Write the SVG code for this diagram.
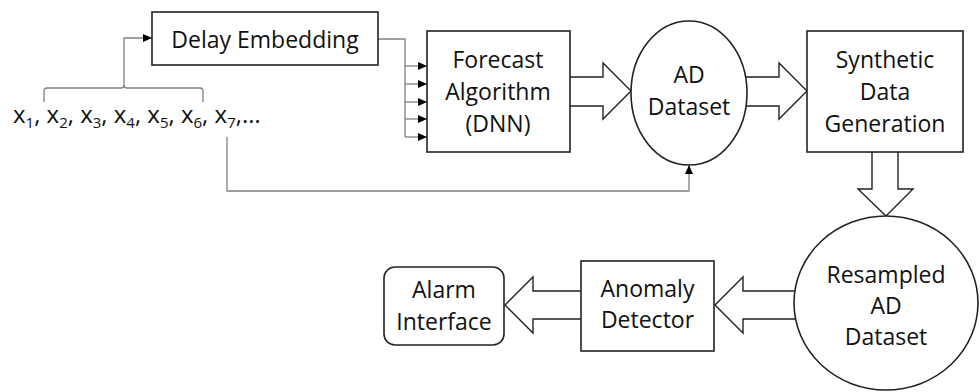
<svg xmlns="http://www.w3.org/2000/svg" width="980" height="392" viewBox="0 0 980 392">
<style>
.box{fill:#fff;stroke:#222;stroke-width:1.6}
.t{font-family:"Open Sans","Noto Sans",sans-serif;font-size:23px;fill:#111;text-anchor:middle}
.seq{font-family:"Open Sans","Noto Sans",sans-serif;font-size:24px;fill:#111}
.sub{font-size:15px}
.thin{fill:none;stroke:#808080;stroke-width:1.3}
.hollow{fill:#fff;stroke:#222;stroke-width:1.4;stroke-linejoin:miter}
</style>
<defs>
<marker id="ah" markerUnits="userSpaceOnUse" markerWidth="9" markerHeight="8" refX="9" refY="4" orient="auto">
<path d="M0,0 L9,4 L0,8 Z" fill="#000"/>
</marker>
</defs>
<rect width="980" height="392" fill="#fff"/>
<g id="connectors">
<path class="thin" d="M44,102 L44,91 Q44,88 47,88 L121,88 Q124,88 124,85 Q124,88 127,88 L200,88 Q203,88 203,91 L203,102"/>
<path class="thin" d="M124,85 L124,38 L152,38" marker-end="url(#ah)"/>
<path class="thin" d="M378,39 L405,39 L405,137"/>
<path class="thin" d="M405,66 L427,66" marker-end="url(#ah)"/>
<path class="thin" d="M405,84 L427,84" marker-end="url(#ah)"/>
<path class="thin" d="M405,102 L427,102" marker-end="url(#ah)"/>
<path class="thin" d="M405,119 L427,119" marker-end="url(#ah)"/>
<path class="thin" d="M405,137 L427,137" marker-end="url(#ah)"/>
<path class="thin" d="M227,137 L227,191 L689,191 L689,165" marker-end="url(#ah)"/>
<polygon class="hollow" points="565,77 603,77 603,63 631,91 603,119 603,106 565,106"/>
<polygon class="hollow" points="740,77 779,77 779,63 807,91 779,119 779,106 740,106"/>
<polygon class="hollow" points="872,148 872,189 858,189 886,216 913,189 898,189 898,148"/>
<polygon class="hollow" points="800,291 743,291 743,277 715,305 743,333 743,319 800,319"/>
<polygon class="hollow" points="586,291 533,291 533,277 505,305 533,333 533,319 586,319"/>
</g>
<g id="sequence">
<text class="seq" x="13" y="123">x<tspan class="sub" dy="5">1</tspan><tspan dy="-5">, x</tspan><tspan class="sub" dy="5">2</tspan><tspan dy="-5">, x</tspan><tspan class="sub" dy="5">3</tspan><tspan dy="-5">, x</tspan><tspan class="sub" dy="5">4</tspan><tspan dy="-5">, x</tspan><tspan class="sub" dy="5">5</tspan><tspan dy="-5">, x</tspan><tspan class="sub" dy="5">6</tspan><tspan dy="-5">, x</tspan><tspan class="sub" dy="5">7</tspan><tspan dy="-5">,…</tspan></text>
</g>
<g id="delay">
<rect class="box" x="152" y="12" width="226" height="53"/>
<text class="t" x="265" y="48">Delay Embedding</text>
</g>
<g id="forecast">
<rect class="box" x="427" y="31" width="143" height="121"/>
<text class="t" x="498" y="68">Forecast</text>
<text class="t" x="498" y="100">Algorithm</text>
<text class="t" x="498" y="132">(DNN)</text>
</g>
<g id="ad">
<ellipse class="box" cx="689" cy="93" rx="58" ry="72"/>
<text class="t" x="689" y="83">AD</text>
<text class="t" x="689" y="115">Dataset</text>
</g>
<g id="synthetic">
<rect class="box" x="807" y="31" width="156" height="121"/>
<text class="t" x="885" y="68">Synthetic</text>
<text class="t" x="885" y="100">Data</text>
<text class="t" x="885" y="132">Generation</text>
</g>
<g id="resampled">
<ellipse class="box" cx="886" cy="303" rx="92" ry="87"/>
<text class="t" x="886" y="283">Resampled</text>
<text class="t" x="886" y="314">AD</text>
<text class="t" x="886" y="345">Dataset</text>
</g>
<g id="anomaly">
<rect class="box" x="581" y="261" width="133" height="90"/>
<text class="t" x="647.5" y="297">Anomaly</text>
<text class="t" x="647.5" y="328">Detector</text>
</g>
<g id="alarm">
<rect class="box" x="384" y="267" width="120" height="78" rx="11"/>
<text class="t" x="444" y="298">Alarm</text>
<text class="t" x="444" y="330">Interface</text>
</g>
</svg>
